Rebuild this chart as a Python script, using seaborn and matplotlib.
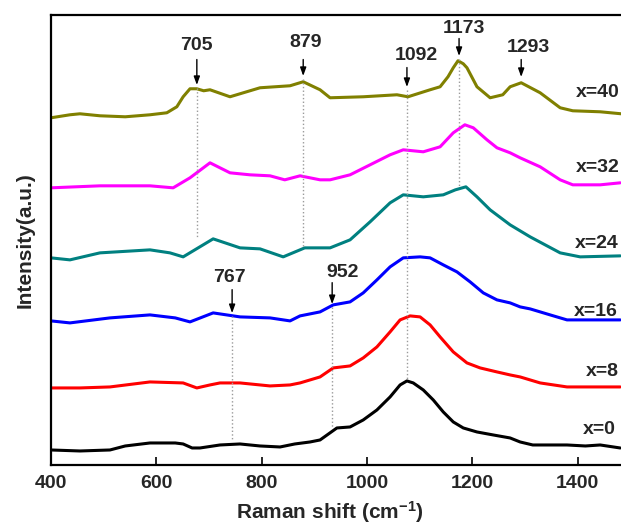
import matplotlib
matplotlib.use('Agg')
import matplotlib.pyplot as plt
import seaborn as sns
import pandas as pd

# raman spectra (shift in cm-1, intensity in a.u.)
shift_x0 = [400, 455, 512, 541, 588, 636, 651, 668, 683, 721, 759, 797, 835, 863, 892, 911, 943, 968, 993,
            1019, 1044, 1063, 1076, 1088, 1107, 1126, 1145, 1164, 1183, 1209, 1240, 1272, 1291, 1315, 1380,
            1415, 1443, 1481]
int_x0 = [15, 14, 15, 19, 22, 22, 21, 17, 17, 20, 21, 19, 18, 21, 23, 25, 37, 38, 45,
          55, 68, 80, 84, 82, 75, 65, 53, 43, 37, 33, 30, 27, 23, 20, 20,
          19, 20, 17]

shift_x8 = [400, 455, 512, 588, 651, 677, 702, 721, 759, 816, 854, 873, 911, 936, 968, 993, 1019, 1044,
            1063, 1082, 1101, 1120, 1139, 1164, 1190, 1215, 1247, 1272, 1291, 1329, 1380, 1481]
int_x8 = [77, 77, 78, 83, 82, 77, 80, 82, 82, 79, 80, 82, 88, 97, 99, 107, 118, 133,
          145, 149, 148, 140, 128, 113, 102, 97, 93, 90, 88, 82, 78, 78]

shift_x16 = [400, 436, 512, 588, 636, 664, 708, 759, 816, 854, 873, 911, 936, 968, 993, 1019, 1044,
             1069, 1101, 1120, 1145, 1171, 1196, 1221, 1247, 1272, 1291, 1310, 1348, 1380, 1481]
int_x16 = [144, 142, 147, 150, 147, 143, 152, 148, 147, 144, 149, 153, 160, 163, 172, 185, 198,
           207, 208, 207, 200, 193, 183, 172, 165, 162, 158, 156, 150, 145, 145]

shift_x24 = [400, 436, 493, 588, 626, 651, 708, 759, 797, 841, 882, 930, 968, 1006, 1044, 1069,
             1107, 1145, 1168, 1188, 1209, 1234, 1272, 1310, 1367, 1405, 1481]
int_x24 = [207, 205, 212, 215, 212, 208, 226, 217, 216, 208, 217, 217, 225, 243, 262, 270,
           268, 270, 275, 278, 268, 255, 240, 228, 212, 208, 209]

shift_x32 = [400, 493, 588, 632, 664, 702, 740, 778, 816, 844, 873, 911, 930, 968, 1006, 1044, 1069,
             1107, 1139, 1164, 1186, 1202, 1228, 1247, 1272, 1291, 1329, 1367, 1391, 1443, 1481]
int_x32 = [277, 279, 279, 277, 287, 302, 292, 290, 289, 285, 289, 285, 285, 290, 300, 310, 315,
           313, 318, 332, 340, 337, 325, 317, 312, 307, 298, 285, 280, 280, 282]

shift_x40 = [400, 436, 455, 493, 541, 588, 620, 639, 651, 664, 677, 690, 702, 740, 797, 854, 879, 911, 930,
             993, 1057, 1078, 1120, 1139, 1154, 1164, 1173, 1183, 1190, 1209, 1234, 1258, 1272, 1293, 1329,
             1367, 1391, 1443, 1483]
int_x40 = [347, 350, 351, 349, 348, 350, 352, 358, 368, 376, 376, 374, 375, 368, 377, 379, 383, 375, 367,
           368, 370, 368, 375, 378, 388, 397, 404, 401, 397, 378, 367, 370, 378, 382, 372,
           357, 354, 353, 351]

series_names = ['x=0', 'x=8', 'x=16', 'x=24', 'x=32', 'x=40']
series_colors = ['black', '#ff0000', '#0000ff', '#008080', '#ff00ff', '#808000']

# peak labels: text, shift where the arrow points
peak_labels = ['705', '879', '1092', '1173', '1293', '767', '952']
peak_shift = [677, 879, 1076, 1175, 1293, 744, 934]

sns.set_style('ticks')
plt.rcParams['font.family'] = ['Liberation Sans', 'DejaVu Sans']
plt.rcParams['font.weight'] = 'bold'
plt.rcParams['mathtext.fontset'] = 'custom'
plt.rcParams['mathtext.rm'] = 'Liberation Sans:bold'
plt.rcParams['mathtext.bf'] = 'Liberation Sans:bold'
plt.rcParams['mathtext.default'] = 'bf'

fig = plt.figure(figsize=(6.21, 5.26), dpi=100)
ax = fig.add_axes([0.0821, 0.116, 0.9327, 0.856])

all_shift = [shift_x0, shift_x8, shift_x16, shift_x24, shift_x32, shift_x40]
all_int = [int_x0, int_x8, int_x16, int_x24, int_x32, int_x40]
for name, color, sx, iy in zip(series_names, series_colors, all_shift, all_int):
    df = pd.DataFrame({'shift': sx, 'intensity': iy})
    sns.lineplot(data=df, x='shift', y='intensity', color=color, linewidth=2.2,
                 estimator=None, sort=False, ax=ax, solid_joinstyle='round')

# arrow tip heights, arrow tail heights, label positions, dotted line ends
tip_y = [377, 386, 375, 406, 385, 149, 158]
tail_y = [408, 408, 400, 429, 408, 178, 185]
text_pos = [(677, 419), (884, 422), (1093, 409), (1184, 436), (1306, 417), (738, 187), (953, 192)]
dot_end = [227, 218, 85, 278, None, 25, 38]

for lab, sx, ty, tl, tp, de in zip(peak_labels, peak_shift, tip_y, tail_y, text_pos, dot_end):
    ax.annotate('', xy=(sx, ty), xytext=(sx, tl),
                arrowprops=dict(arrowstyle='-|>,head_length=0.5,head_width=0.18',
                                color='black', lw=1))
    ax.text(tp[0], tp[1], lab, ha='center', va='center', fontsize=14, fontweight='bold')
    if de is not None:
        ax.plot([sx, sx], [ty, de], linestyle=':', color='#9a9a9a', linewidth=1)

# curve names on the right
name_pos = [(1410, 35), (1416, 93), (1393, 153), (1395, 221), (1397, 297), (1397, 372)]
for name, (px, py) in zip(series_names, name_pos):
    ax.text(px, py, name, ha='left', va='center', fontsize=14, fontweight='bold')

ax.set_xlim(400, 1500)
ax.set_ylim(0, 450)
ax.set_xticks([400, 600, 800, 1000, 1200, 1400])
ax.set_yticks([])
ax.tick_params(axis='x', direction='in', length=6, width=1.4, labelsize=14, pad=7)
for lbl in ax.get_xticklabels():
    lbl.set_fontweight('bold')
for sp in ax.spines.values():
    sp.set_visible(True)
    sp.set_linewidth(1.6)
    sp.set_color('black')

ax.set_xlabel('Raman shift (cm$^{-1}$)', fontsize=15, fontweight='bold')
ax.xaxis.set_label_coords(0.482, -0.076)
ax.set_ylabel('Intensity(a.u.)', fontsize=15, fontweight='bold')
ax.yaxis.set_label_coords(-0.028, 0.5)

fig.savefig('out.png', dpi=100)
